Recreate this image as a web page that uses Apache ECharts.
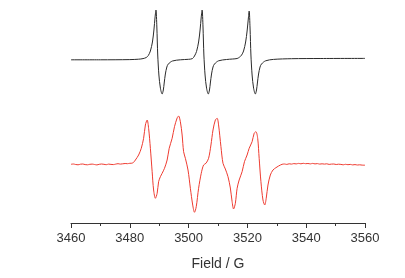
<!DOCTYPE html>
<html>
<head>
<meta charset="utf-8">
<script src="https://cdn.jsdelivr.net/npm/echarts@6/dist/echarts.min.js"></script>
<style>
  html, body { margin: 0; padding: 0; background: #fff; }
</style>
</head>
<body>
<div id="main" style="width:405px;height:278px;"></div>
<script>
// field axis ticks (G)
var fieldTicks = [3460, 3480, 3500, 3520, 3540, 3560];

// top trace (black) - field in G, signal in arbitrary units
var blackField = [
  3460, 3470, 3480, 3483, 3484.5, 3485.6, 3486.3, 3487.0, 3487.7, 3488.2, 3488.6, 3488.9, 3489.2, 3489.5, 3489.9, 3490.4, 3491.0, 3491.4, 3491.7, 3492.1, 3492.6, 3493.1, 3494.5, 3497.2, 3500, 3501.3,
  3502.0, 3502.7, 3503.4, 3503.9, 3504.3, 3504.6, 3504.9, 3505.2, 3505.6, 3506.1, 3506.7, 3507.1, 3507.4, 3507.8, 3508.3, 3508.8, 3510.2, 3512.9, 3515, 3516.5,
  3517.3, 3518.0, 3518.7, 3519.4, 3519.9, 3520.3, 3520.6, 3520.9, 3521.2, 3521.6, 3522.1, 3522.7, 3523.1, 3523.4, 3523.8, 3524.3, 3524.8, 3526.2, 3528.9, 3535, 3545, 3560
];
var blackSignal = [
  -0.8, -0.8, -0.6, -0.2, 0.4, 1.5, 3.5, 8, 17, 29, 42, 49, 32, 4, -16, -29, -35, -31, -24, -15, -8, -5, -2, -0.8, -0.3, 0.4,
  3, 7.5, 17, 29, 42, 49, 32, 4, -16, -29, -35, -31, -24, -15, -8, -5, -1.8, -0.5, 0, 0.5,
  1.8, 3.8, 8, 17, 28, 40, 48, 31, 4, -16, -29, -35, -31, -24, -15, -8, -5, -1.8, -0.4, 0.3, 0.5, 0.6
];

// bottom trace (red)
var redField = [
  3460, 3460.8, 3461.6, 3462.4, 3463.2, 3464.0, 3464.8, 3465.6, 3466.4, 3467.2, 3468.0, 3468.8, 3469.6, 3470.4, 3471.2, 3472.0, 3472.8, 3473.6, 3474.4, 3475.2, 3476.0, 3476.8, 3477.6, 3478.4, 3479.2, 3480.0, 3480.7,
  3481.3, 3481.9, 3483.0, 3483.9, 3484.7, 3485.3, 3485.9, 3486.4, 3487.0, 3487.6, 3488.1, 3488.7, 3489.3, 3489.8, 3490.4, 3491.0, 3491.8, 3492.7, 3493.4, 3494.4, 3495.2, 3496.1, 3496.6,
  3497.2, 3497.8, 3498.3, 3498.9, 3499.8, 3500.6, 3501.4, 3502.0, 3502.6, 3503.4, 3504.3, 3505.1, 3505.9, 3506.8, 3507.6, 3508.3, 3509.1, 3509.7,
  3510.2, 3511.0, 3511.7, 3512.5, 3513.4, 3514.2, 3514.8, 3515.3, 3515.9, 3516.5, 3517.2, 3518.2, 3519.0, 3519.9, 3520.6, 3521.6, 3522.3, 3522.9,
  3523.5, 3524.0, 3524.6, 3525.3, 3525.9, 3526.4, 3527.0, 3527.8, 3528.7, 3529.7, 3530.6, 3531.8,
  3532.6, 3533.4, 3534.2, 3535.0, 3535.8, 3536.6, 3537.4, 3538.2, 3539.0, 3539.8, 3540.6, 3541.4, 3542.2, 3543.0, 3543.8, 3544.6, 3545.4, 3546.2, 3547.0, 3547.8, 3548.6, 3549.4, 3550.2, 3551.0, 3551.8, 3552.6, 3553.4, 3554.2, 3555.0, 3555.8, 3556.6, 3557.4, 3558.2, 3559.0, 3560
];
var redSignal = [
  0.2, 0.5, 0.0, -0.3, 0.3, 0.5, -0.1, -0.3, 0.2, 0.4, 0.0, -0.4, 0.2, 0.5, 0.2, -0.2, 0.4, 0.1, -0.1, 0.4, 0.8, 0.4, 0.7, 1.0, 0.8, 1.2, 1.3,
  2.2, 4.5, 9.5, 16.2, 26.2, 39.5, 44.5, 36.2, 16.2, -7.2, -25.5, -33.8, -28.8, -17.2, -12.2, -8.8, -3.8, 4.5, 16.2, 26.2, 37.8, 46.5, 48.5,
  42.8, 29.5, 12.8, 6.2, -5.5, -23.8, -40.5, -47.8, -42.2, -23.8, -8.8, -0.5, 1.2, 6.2, 19.5, 34.5, 44.5, 46.2,
  39.5, 17.8, 1.2, -4.5, -12.2, -23.5, -37.2, -44.5, -38.8, -23.8, -15.5, -7.2, 2.8, 9.5, 16.2, 22.8, 31.2, 32.8,
  26.2, 6.2, -17.2, -35.5, -40.5, -33.8, -20.5, -10.5, -5.5, -3.2, -1.5, 0.2,
  0.5, 0.1, 0.7, 0.4, 0.9, 0.6, 1.1, 0.7, 1.2, 0.8, 1.0, 0.6, 1.1, 0.6, 0.9, 0.4, 0.7, 0.4, 0.7, 0.1, 0.4, 0.5, 0.0, 0.3, 0.1, -0.3, 0.2, -0.2, 0.1, -0.4, -0.1, -0.5, -0.3, -0.6, -0.7
];

var blackOffset = 164;
var redOffset = 58.5;

function pairs(xs, ys, off) {
  var out = [];
  for (var i = 0; i < xs.length; i++) out.push([xs[i], ys[i] + off]);
  return out;
}

var chart = echarts.init(document.getElementById('main'));
chart.setOption({
  animation: false,
  grid: { left: 71, right: 40, top: 5, bottom: 55 },
  xAxis: {
    type: 'value',
    min: 3460,
    max: 3560,
    interval: 20,
    name: 'Field / G',
    nameLocation: 'middle',
    nameGap: 34,
    nameTextStyle: { fontFamily: 'Liberation Sans', fontSize: 14, color: '#333' },
    axisLine: { show: true, lineStyle: { color: '#333', width: 1 } },
    axisTick: { show: true, length: 5, lineStyle: { color: '#333' } },
    minorTick: { show: true, splitNumber: 2, length: 3, lineStyle: { color: '#333' } },
    splitLine: { show: false },
    axisLabel: {
      fontFamily: 'Liberation Sans', fontSize: 13, color: '#333', margin: 9,
      formatter: function (v) { return fieldTicks.indexOf(v) >= 0 ? String(v) : ''; }
    }
  },
  yAxis: {
    type: 'value',
    min: 0,
    max: 218,
    show: false
  },
  series: [
    {
      type: 'line',
      data: pairs(blackField, blackSignal, blackOffset),
      showSymbol: false,
      smooth: 0.3,
      lineStyle: { color: '#2a2a2a', width: 1 }
    },
    {
      type: 'line',
      data: pairs(redField, redSignal, redOffset),
      showSymbol: false,
      smooth: 0.3,
      lineStyle: { color: '#ee3b30', width: 1 }
    }
  ]
});
</script>
</body>
</html>
